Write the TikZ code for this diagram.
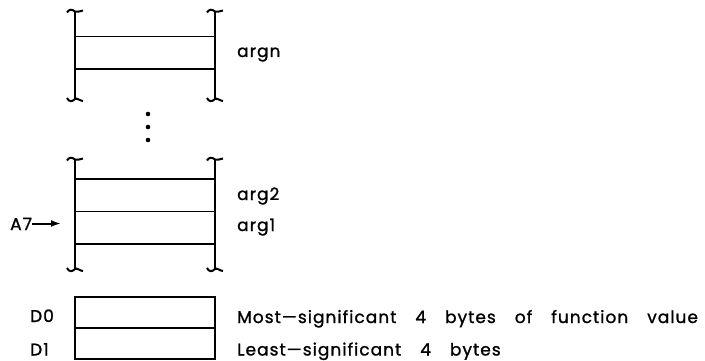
\documentclass[tikz,border=0pt]{standalone}
\usepackage{fontspec}
\setmainfont{Poppins}[LetterSpace=6, FakeBold=1.2]
\usetikzlibrary{arrows.meta,positioning}
\tikzset{>={Latex[length=10pt,width=7pt]}}
\newcommand{\wideSpaces}{\spaceskip=19pt\relax}
\tikzstyle{slot}=[draw, line width=1.7pt, minimum width=140pt,
    minimum height=32.5pt, inner sep=0pt, outer sep=0pt]
\tikzstyle{wall}=[line width=2pt]
\tikzstyle{txt}=[anchor=base west, inner sep=0pt,
    font=\fontsize{17}{20}\selectfont, execute at begin node=\wideSpaces]
% side of a stack, with a squiggle at each cut end
\newcommand{\pWall}[3]{%
  \draw[wall] (#1,#2+1) -- (#1,#3);
  \draw[wall,shift={(#1,#2)}] (-8,2.5) .. controls (-6,-1) and (-3,-1) .. (0,1.5)
      .. controls (2,2.5) and (5,1) .. (8,0.5);
  \draw[wall,shift={(#1,#3)}] (-8,-1) .. controls (-6,3) and (-3,3) .. (0,0)
      .. controls (2,-1.5) and (5,2) .. (8,2);}

\begin{document}
\begin{tikzpicture}[x=1pt,y=-1pt]
\useasboundingbox (0,0) rectangle (705,361);

% top of the argument area
\pWall{75}{10}{99}
\pWall{215}{10}{99}
\node[slot] (argn) at (145,52.75) {};
\node[txt] at (237,57) {argn};

\foreach \y in {114,127,140} \fill (148,\y) circle (2.3pt);

% arguments next to the frame pointer
\pWall{75}{158}{269}
\pWall{215}{158}{269}
\node[slot] (arg2) at (145,195.25) {};
\node[slot,below=0pt of arg2] (arg1) {};
\node[txt] at (237,200) {arg2};
\node[txt] at (237,231) {arg1};

\node[txt] (a7) at (10,230) {A7};
\coordinate (fp) at (61,223.5);
\draw[->, line width=2pt] (a7.east |- fp) -- (fp);

% result registers
\node[slot, minimum height=31pt] (d0) at (145,312.5) {};
\node[slot, minimum height=31pt, below=0pt of d0] (d1) {};
\node[txt] at (30,322) {D0};
\node[txt] at (30,355.5) {D1};
\node[txt] at (237,323) {Most---significant 4 bytes of function value};
\node[txt] at (237,355.5) {Least---significant 4 bytes};

\end{tikzpicture}
\end{document}
